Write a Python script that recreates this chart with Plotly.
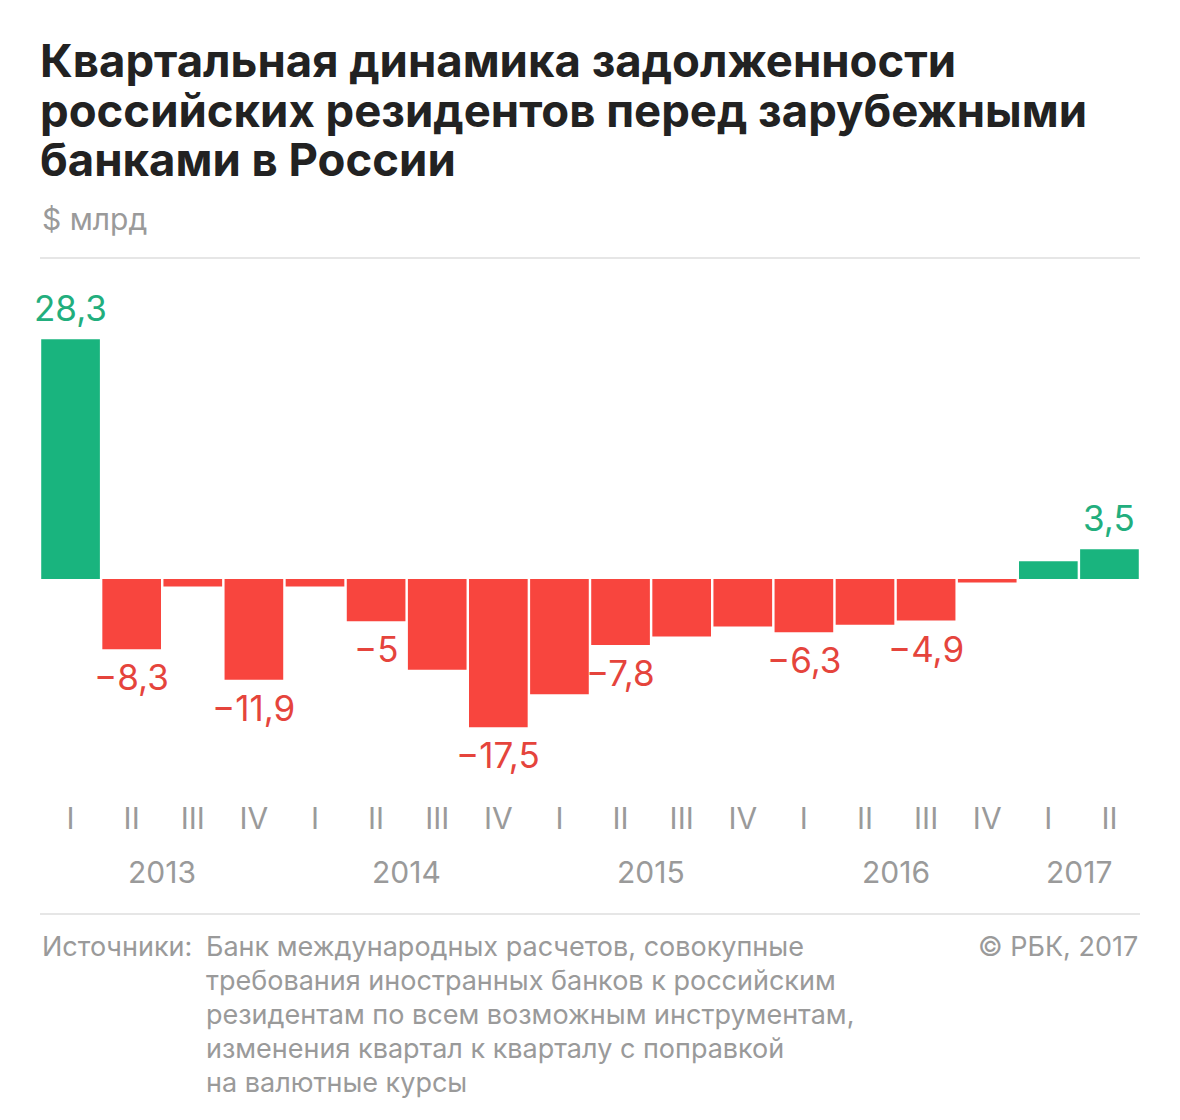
import plotly.graph_objects as go

# ---- data ----
quarters = ["I", "II", "III", "IV", "I", "II", "III", "IV", "I", "II", "III", "IV",
            "I", "II", "III", "IV", "I", "II"]
years = ["2013"] * 4 + ["2014"] * 4 + ["2015"] * 4 + ["2016"] * 4 + ["2017"] * 2
values = [28.3, -8.3, -0.9, -11.9, -0.9, -5.0, -10.7, -17.5, -13.6, -7.8, -6.8, -5.6,
          -6.3, -5.4, -4.9, -0.4, 2.1, 3.5]
labelled = [True, True, False, True, False, True, False, True, False, True, False, False,
            True, False, True, False, False, True]

title_lines = ["Квартальная динамика задолженности",
               "российских резидентов перед зарубежными",
               "банками в России"]
unit_text = "$ млрд"
source_head = "Источники:"
source_lines = ["Банк международных расчетов, совокупные",
                "требования иностранных банков к российским",
                "резидентам по всем возможным инструментам,",
                "изменения квартал к кварталу с поправкой",
                "на валютные курсы"]
copyright_text = "© РБК, 2017"

# ---- styling ----
GREEN = "#19b47e"
RED = "#f8453e"
GREEN_T = "#22ae7d"
RED_T = "#e5443c"
GRAY = "#9a9a9a"
FONT = "Inter"

W, H = 1180, 1120
L, R = 40, 40
T, B = 280, 330          # plot top / bottom margins (px)
PLOT_BOTTOM = H - B
PLOT_H = H - T - B
PLOT_W = W - L - R


def py(p):
    """pixel y (from top) -> paper y"""
    return (PLOT_BOTTOM - p) / PLOT_H


def fmt(v):
    s = ("%.1f" % abs(v)).rstrip("0").rstrip(".").replace(".", ",")
    return ("−" if v < 0 else "") + s


x = list(range(len(values)))
colors = [GREEN if v >= 0 else RED for v in values]

fig = go.Figure()
fig.add_trace(go.Bar(
    x=x, y=values, marker=dict(color=colors, line=dict(width=0)),
    hoverinfo="skip", cliponaxis=False,
))

annotations = []
for k, line in enumerate(title_lines):
    annotations.append(dict(
        text=line, x=0, y=py(60 + 50 * k), xref="paper", yref="paper",
        xanchor="left", yanchor="middle", showarrow=False, xshift=-2,
        font=dict(family=FONT, size=45.5, color="#222222", weight=700)))

annotations.append(dict(text=unit_text, x=0, y=py(219), xref="paper", yref="paper",
                        xanchor="left", yanchor="middle", showarrow=False,
                        font=dict(family=FONT, size=30, color=GRAY)))

# value labels: above positive bars, below negative bars
for i, (v, show) in enumerate(zip(values, labelled)):
    if not show:
        continue
    pos = v >= 0
    annotations.append(dict(
        text=fmt(v), x=i, y=v, xref="x", yref="y",
        xanchor="center", yanchor="bottom" if pos else "top",
        yshift=8 if pos else -5, showarrow=False,
        font=dict(family=FONT, size=35, color=GREEN_T if pos else RED_T)))

# year labels centred under their quarters
for yr in dict.fromkeys(years):
    idx = [i for i, y in enumerate(years) if y == yr]
    annotations.append(dict(
        text=yr, x=sum(idx) / len(idx), y=py(872), xref="x", yref="paper",
        xanchor="center", yanchor="middle", showarrow=False,
        font=dict(family=FONT, size=30, color=GRAY)))

# footer
annotations.append(dict(text=source_head, x=0, y=py(946), xref="paper", yref="paper",
                        xanchor="left", yanchor="middle", showarrow=False,
                        font=dict(family=FONT, size=27, color=GRAY)))
for k, line in enumerate(source_lines):
    annotations.append(dict(text=line, x=(204 - L) / PLOT_W, y=py(946 + 34 * k),
                            xref="paper", yref="paper", xanchor="left",
                            yanchor="middle", showarrow=False,
                            font=dict(family=FONT, size=27, color=GRAY)))
annotations.append(dict(text=copyright_text, x=1, y=py(946), xref="paper", yref="paper",
                        xanchor="right", yanchor="middle", showarrow=False,
                        font=dict(family=FONT, size=27, color=GRAY)))

shapes = [
    dict(type="line", xref="paper", yref="paper", x0=0, x1=1, y0=py(258), y1=py(258),
         line=dict(color="#e6e6e6", width=2)),
    dict(type="line", xref="paper", yref="paper", x0=0, x1=1, y0=py(914), y1=py(914),
         line=dict(color="#e6e6e6", width=2)),
]

zero_px = 579
px_per_unit = 8.47
y_top = (zero_px - T) / px_per_unit
y_bot = -(PLOT_BOTTOM - zero_px) / px_per_unit

fig.update_layout(
    width=W, height=H,
    margin=dict(l=L, r=R, t=T, b=B, pad=0),
    paper_bgcolor="white", plot_bgcolor="white",
    bargap=0.04, showlegend=False,
    annotations=annotations, shapes=shapes,
    xaxis=dict(tickmode="array", tickvals=x, ticktext=quarters,
               range=[-0.5, len(values) - 0.5], showgrid=False, zeroline=False,
               showline=False, ticks="outside", ticklen=2,
               tickcolor="rgba(0,0,0,0)",
               tickfont=dict(family=FONT, size=30, color=GRAY), fixedrange=True),
    yaxis=dict(range=[y_bot, y_top], visible=False, showgrid=False,
               zeroline=False, fixedrange=True),
)

fig.write_html("out.html", config={"displayModeBar": False},
               post_script="document.body.style.margin='0';")
